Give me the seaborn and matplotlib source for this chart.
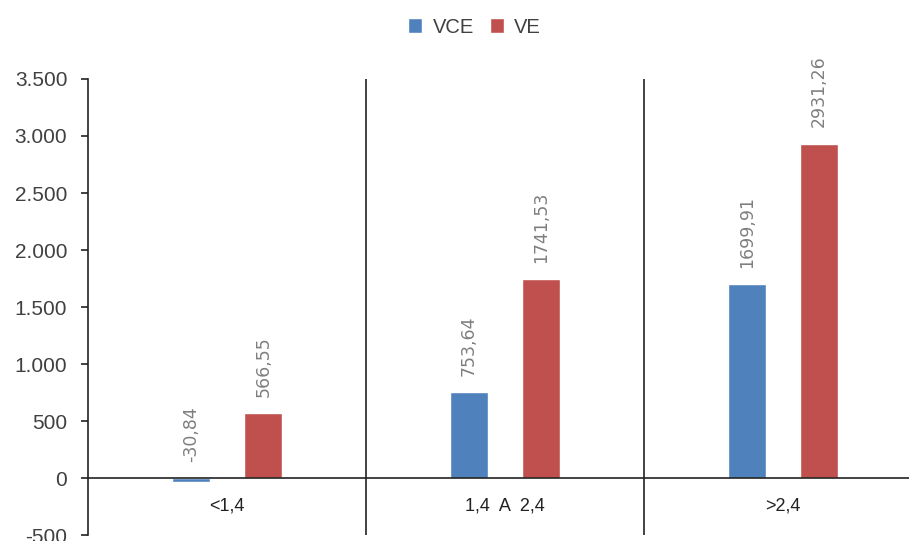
import matplotlib
matplotlib.use("Agg")
import matplotlib.pyplot as plt
import seaborn as sns
import pandas as pd
from matplotlib.ticker import FuncFormatter
from matplotlib.patches import Patch

categories = ["<1,4", "1,4  A  2,4", ">2,4"]
series_names = ["VCE", "VE"]
vce_values = [-30.84, 753.64, 1699.91]
ve_values = [566.55, 1741.53, 2931.26]
y_ticks = [-500, 0, 500, 1000, 1500, 2000, 2500, 3000, 3500]

colors = {"VCE": "#4F81BD", "VE": "#C0504D"}

df = pd.DataFrame({
    "cat": categories * 2,
    "serie": ["VCE"] * 3 + ["VE"] * 3,
    "valor": vce_values + ve_values,
})

sns.set_style("white")
plt.rcParams['font.family'] = ['Liberation Sans', 'DejaVu Sans']

fig = plt.figure(figsize=(9.09, 5.41), dpi=100)
ax = fig.add_axes([0.097, 0.011, 0.917, 0.843])

sns.barplot(data=df, x="cat", y="valor", hue="serie", palette=colors,
            width=0.52, gap=0.47, ax=ax, legend=False, saturation=1)

ax.set_ylim(-500, 3500)
ax.set_xlim(-0.5, 2.5)
ax.set_yticks(y_ticks)
ax.yaxis.set_major_formatter(FuncFormatter(lambda v, p: f"{int(v):,}".replace(",", ".")))
ax.tick_params(axis="y", direction="out", length=5, width=1.2, pad=10, labelsize=15,
               colors="#222222", labelcolor="#404040", left=True)
ax.tick_params(axis="x", length=0, labelsize=13, pad=14, labelcolor="#222222")
ax.set_xlabel("")
ax.set_ylabel("")

for s in ["top", "right"]:
    ax.spines[s].set_visible(False)
ax.spines["bottom"].set_position(("data", 0))
ax.spines["bottom"].set_color("#222222")
ax.spines["bottom"].set_linewidth(1.2)
ax.spines["left"].set_color("#222222")
ax.spines["left"].set_linewidth(1.2)

for xs in [0.5, 1.5]:
    ax.axvline(xs, color="#222222", lw=1.2)

for container, name in zip(ax.containers, series_names):
    for bar in container:
        v = bar.get_height()
        top = max(v, 0)
        xc = bar.get_x() + bar.get_width() / 2
        ax.text(xc, top + 145, f"{v:.2f}".replace(".", ","), rotation=90,
                ha="center", va="bottom", color="#7f7f7f", fontsize=12.5,
                family="DejaVu Sans")

handles = [Patch(facecolor=colors[n], label=n) for n in series_names]
fig.legend(handles=handles, loc="center", bbox_to_anchor=(0.522, 0.95), ncol=2,
           frameon=False, fontsize=14.5, handlelength=0.7, handleheight=0.7,
           handletextpad=0.5, columnspacing=0.8, labelcolor="#404040")

fig.savefig("out.png", dpi=100)
